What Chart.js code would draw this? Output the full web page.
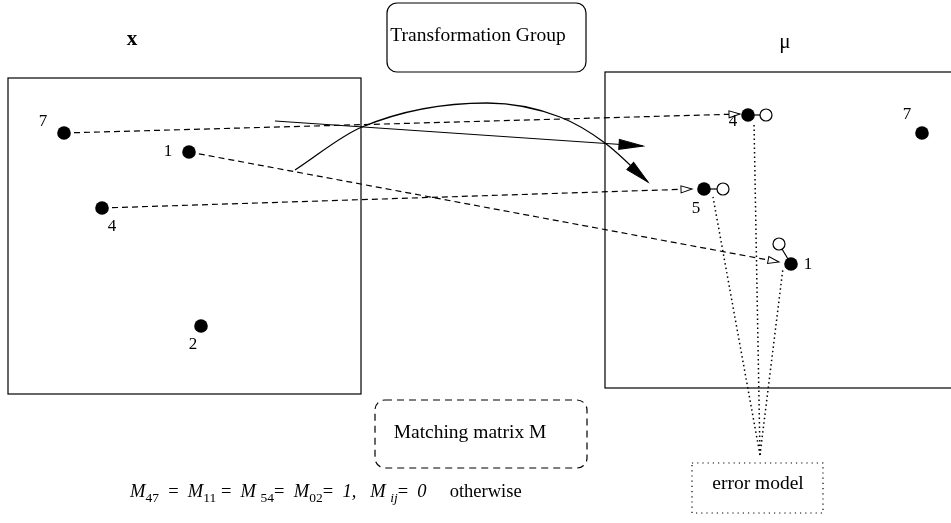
<!DOCTYPE html>
<html>
<head>
<meta charset="utf-8">
<script src="https://cdn.jsdelivr.net/npm/chart.js@4"></script>
<style>
html, body { margin: 0; padding: 0; background: #fff; }
canvas { display: block; }
</style>
</head>
<body>
<canvas id="diagram" width="951" height="523"></canvas>
<script>
// Point sets (x to the right, y downwards)
const leftLabels = ['7', '1', '4', '2'];
const leftX = [64, 189, 102, 201];
const leftY = [133, 152, 208, 326];

const rightLabels = ['4', '7', '5', '1'];
const rightX = [748, 922, 704, 791];
const rightY = [115, 133, 189, 264];

// open circles: perturbed positions of matched points 4, 5, 1
const errFrom = [0, 2, 3];
const errX = [766, 723, 779];
const errY = [115, 189, 244];

// dashed correspondences: left point -> arrow tip in front of right point
const matchFrom = [0, 2, 1];
const matchTipX = [740, 692, 779];
const matchTipY = [114, 189, 262];

// dotted lines from the error model box
const errApex = [760, 455];
const errLineX = [754, 713, 783];
const errLineY = [122, 197, 268];

// transformation arrows
const straightX = [275, 643];
const straightY = [121, 146];
const curveX = [295, 362, 487, 560, 605, 648];
const curveY = [170, 127, 103, 117, 143, 182];

// label placement (layout only)
const leftLabelOff = [[-21, -11], [-21, 0], [10, 19], [-8, 19]];
const rightLabelOff = [[-15, 7], [-15, -18], [-8, 20], [17, 1]];

const SERIF = '"Liberation Serif", "DejaVu Serif", serif';

function pts(xs, ys) {
    return xs.map((x, i) => ({ x: x, y: ys[i] }));
}

function seg(a, b, style) {
    return Object.assign({
        type: 'line',
        data: [a, b],
        showLine: true,
        borderColor: '#000',
        borderWidth: 1.2,
        pointRadius: 0,
        fill: false,
        order: 5,
        clip: false
    }, style);
}

const datasets = [];

// left-right correspondences
matchFrom.forEach((li, k) => {
    datasets.push(seg({ x: leftX[li], y: leftY[li] }, { x: matchTipX[k], y: matchTipY[k] },
        { borderDash: [6, 4] }));
});

// error model dotted lines
errLineX.forEach((x, k) => {
    datasets.push(seg({ x: errApex[0], y: errApex[1] }, { x: x, y: errLineY[k] },
        { borderDash: [1.5, 3], borderWidth: 1.5 }));
});

// point -> perturbed point connectors
errFrom.forEach((ri, k) => {
    datasets.push(seg({ x: rightX[ri], y: rightY[ri] }, { x: errX[k], y: errY[k] }, {}));
});

// straight transformation arrow
datasets.push(seg({ x: straightX[0], y: straightY[0] }, { x: straightX[1], y: straightY[1] }, {}));

// curved transformation arrow
datasets.push({
    type: 'line',
    data: pts(curveX, curveY),
    showLine: true,
    borderColor: '#000',
    borderWidth: 1.3,
    pointRadius: 0,
    cubicInterpolationMode: 'monotone',
    fill: false,
    order: 5,
    clip: false
});

// open circles
datasets.push({
    data: pts(errX, errY),
    pointRadius: 6,
    pointBackgroundColor: '#fff',
    pointBorderColor: '#000',
    pointBorderWidth: 1.2,
    order: 2
});

// model / data points
datasets.push({
    data: pts(leftX, leftY).concat(pts(rightX, rightY)),
    pointRadius: 6.8,
    pointBackgroundColor: '#000',
    pointBorderColor: '#000',
    pointBorderWidth: 0,
    order: 1
});

function roundBox(ctx, x0, y0, x1, y1, r) {
    ctx.beginPath();
    ctx.moveTo(x0 + r, y0);
    ctx.lineTo(x1 - r, y0);
    ctx.arcTo(x1, y0, x1, y0 + r, r);
    ctx.lineTo(x1, y1 - r);
    ctx.arcTo(x1, y1, x1 - r, y1, r);
    ctx.lineTo(x0 + r, y1);
    ctx.arcTo(x0, y1, x0, y1 - r, r);
    ctx.lineTo(x0, y0 + r);
    ctx.arcTo(x0, y0, x0 + r, y0, r);
    ctx.closePath();
}

function arrowHead(ctx, fx, fy, tx, ty, len, half, filled) {
    const a = Math.atan2(ty - fy, tx - fx);
    ctx.save();
    ctx.translate(tx, ty);
    ctx.rotate(a);
    ctx.beginPath();
    ctx.moveTo(0, 0);
    ctx.lineTo(-len, -half);
    ctx.lineTo(-len, half);
    ctx.closePath();
    ctx.fillStyle = filled ? '#000' : '#fff';
    ctx.fill();
    ctx.lineWidth = 1;
    ctx.strokeStyle = '#000';
    ctx.stroke();
    ctx.restore();
}

const diagramPlugin = {
    id: 'diagram',
    beforeDatasetsDraw(chart) {
        const ctx = chart.ctx;
        const sx = v => chart.scales.x.getPixelForValue(v);
        const sy = v => chart.scales.y.getPixelForValue(v);
        ctx.save();
        ctx.strokeStyle = '#000';
        ctx.lineWidth = 1.2;
        // feature spaces
        ctx.strokeRect(sx(8), sy(78), sx(361) - sx(8), sy(394) - sy(78));
        ctx.strokeRect(sx(605), sy(72), sx(953) - sx(605), sy(388) - sy(72));
        // transformation group
        roundBox(ctx, sx(387), sy(3), sx(586), sy(72), 10);
        ctx.stroke();
        // matching matrix
        ctx.setLineDash([7, 5]);
        roundBox(ctx, sx(375), sy(400), sx(587), sy(468), 10);
        ctx.stroke();
        // error model
        ctx.setLineDash([1.2, 4]);
        ctx.strokeRect(sx(692), sy(463), sx(823) - sx(692), sy(513) - sy(463));
        ctx.restore();
    },
    afterDatasetsDraw(chart) {
        const ctx = chart.ctx;
        const sx = v => chart.scales.x.getPixelForValue(v);
        const sy = v => chart.scales.y.getPixelForValue(v);
        ctx.save();

        // arrowheads
        matchFrom.forEach((li, k) => {
            arrowHead(ctx, sx(leftX[li]), sy(leftY[li]), sx(matchTipX[k]), sy(matchTipY[k]), 11, 3.5, false);
        });
        arrowHead(ctx, sx(straightX[0]), sy(straightY[0]), sx(straightX[1]), sy(straightY[1]), 24, 5, true);
        const n = curveX.length;
        arrowHead(ctx, sx(curveX[n - 2]), sy(curveY[n - 2]), sx(curveX[n - 1]), sy(curveY[n - 1]), 24, 5, true);

        // texts
        ctx.fillStyle = '#000';
        ctx.textAlign = 'center';
        ctx.textBaseline = 'middle';
        ctx.font = 'bold 21px ' + SERIF;
        ctx.fillText('x', sx(132), sy(40));
        ctx.font = '21px ' + SERIF;
        ctx.fillText('\u03bc', sx(785), sy(42));
        ctx.font = '19.5px ' + SERIF;
        ctx.fillText('Transformation Group', sx(478), sy(36));
        ctx.fillText('Matching matrix M', sx(470), sy(433));
        ctx.fillText('error model', sx(758), sy(484));

        ctx.font = '17px ' + SERIF;
        leftLabels.forEach((t, i) => {
            ctx.fillText(t, sx(leftX[i]) + leftLabelOff[i][0], sy(leftY[i]) + leftLabelOff[i][1]);
        });
        rightLabels.forEach((t, i) => {
            ctx.fillText(t, sx(rightX[i]) + rightLabelOff[i][0], sy(rightY[i]) + rightLabelOff[i][1]);
        });

        // matching formula
        const parts = [
            ['M', 'it'], ['47', 'sub'], ['  =  ', 'rm'], ['M', 'it'], ['11', 'sub'], [' =  ', 'rm'],
            ['M ', 'it'], ['54', 'sub'], ['=  ', 'rm'], ['M', 'it'], ['02', 'sub'], ['=  ', 'rm'],
            ['1,', 'it'], ['   M ', 'it'], ['ij', 'subit'], ['=  ', 'rm'], ['0', 'it'], ['     otherwise', 'rm']
        ];
        const fonts = {
            it: 'italic 18.5px ' + SERIF,
            rm: '18.5px ' + SERIF,
            sub: '13.5px ' + SERIF,
            subit: 'italic 13.5px ' + SERIF
        };
        ctx.textAlign = 'left';
        ctx.textBaseline = 'alphabetic';
        let x = sx(130);
        const base = sy(497);
        parts.forEach(p => {
            ctx.font = fonts[p[1]];
            const dy = p[1].indexOf('sub') === 0 ? 5 : 0;
            ctx.fillText(p[0], x, base + dy);
            x += ctx.measureText(p[0]).width;
        });
        ctx.restore();
    }
};

new Chart(document.getElementById('diagram').getContext('2d'), {
    type: 'scatter',
    data: { datasets: datasets },
    options: {
        responsive: false,
        animation: false,
        events: [],
        layout: { padding: 0, autoPadding: false },
        plugins: {
            legend: { display: false },
            tooltip: { enabled: false }
        },
        scales: {
            x: { type: 'linear', min: 0, max: 951, display: false },
            y: { type: 'linear', min: 0, max: 523, reverse: true, display: false }
        }
    },
    plugins: [diagramPlugin]
});
</script>
</body>
</html>
